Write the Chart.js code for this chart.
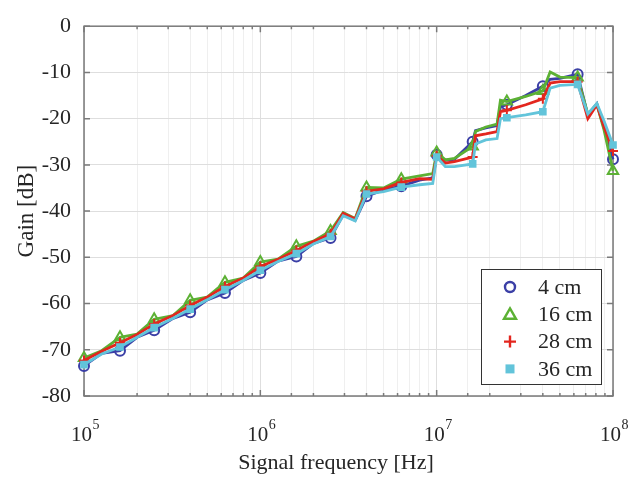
<!DOCTYPE html>
<html>
<head>
<meta charset="utf-8">
<script src="https://cdn.jsdelivr.net/npm/chart.js@4.4.1/dist/chart.umd.min.js"></script>
<style>
  body { margin: 0; background: #fff; }
  canvas { display: block; }
</style>
</head>
<body>
<canvas id="gain" width="640" height="481"></canvas>
<script>
// measurement frequencies [Hz]
const freqs = [
  1.0e5, 1.26e5, 1.6e5, 2.0e5, 2.5e5, 3.2e5, 4.0e5, 5.0e5, 6.3e5, 8.0e5,
  1.0e6, 1.26e6, 1.6e6, 2.0e6, 2.5e6, 2.95e6, 3.45e6, 4.0e6, 5.0e6, 6.3e6,
  8.0e6, 9.5e6, 1.0e7, 1.12e7, 1.26e7, 1.6e7, 1.66e7, 1.9e7, 2.2e7, 2.3e7,
  2.5e7, 3.2e7, 4.0e7, 4.4e7, 5.0e7, 6.3e7, 7.2e7, 8.1e7, 8.9e7, 1.0e8
];

// gain [dB] for each distance
const gain4 = [
  -73.5, -70.8, -70.2, -67.3, -65.8, -63.2, -61.9, -59.2, -57.7, -55.0,
  -53.4, -50.8, -49.8, -47.0, -45.8, -40.8, -42.0, -36.8, -35.4, -34.6,
  -33.3, -32.8, -27.8, -29.0, -28.8, -25.0, -22.6, -22.0, -21.5, -17.4,
  -17.0, -15.0, -13.0, -11.5, -11.3, -10.4, -19.3, -16.8, -22.0, -28.8
];
const gain16 = [
  -71.8, -70.2, -67.3, -66.6, -63.4, -62.6, -59.3, -58.6, -55.4, -54.5,
  -51.0, -50.4, -47.6, -46.5, -44.3, -40.3, -41.6, -34.9, -35.0, -33.1,
  -32.4, -31.9, -27.3, -28.9, -28.6, -26.0, -22.8, -21.8, -21.2, -16.0,
  -16.3, -15.2, -14.0, -9.9, -11.0, -11.1, -19.0, -16.9, -22.5, -31.3
];
const gain28 = [
  -72.3, -70.3, -68.5, -66.7, -64.4, -62.6, -60.4, -58.6, -56.3, -54.5,
  -52.0, -50.4, -48.5, -46.6, -44.9, -40.5, -41.7, -35.7, -35.2, -33.8,
  -33.0, -33.1, -28.0, -29.6, -29.3, -28.3, -23.7, -23.3, -22.8, -18.5,
  -18.2, -17.0, -15.7, -12.3, -12.0, -12.0, -20.0, -17.0, -21.8, -27.0
];
const gain36 = [
  -73.2, -70.9, -69.4, -67.3, -65.2, -63.2, -61.2, -59.2, -57.0, -55.0,
  -52.8, -50.9, -49.2, -47.1, -45.5, -41.0, -42.1, -36.3, -35.8, -34.8,
  -34.3, -34.0, -28.3, -30.4, -30.4, -29.8, -25.5, -24.6, -24.3, -20.0,
  -19.8, -19.2, -18.5, -13.4, -12.8, -12.6, -19.0, -16.7, -20.5, -25.7
];

const labels = ['4 cm', '16 cm', '28 cm', '36 cm'];
const colors = ['#3b3fa6', '#5cb134', '#e3261e', '#62c4da'];
const styles = ['circle', 'triangle', 'cross', 'rect'];
const yTicks = [0, -10, -20, -30, -40, -50, -60, -70, -80];
const decades = [1e5, 1e6, 1e7, 1e8];
const xTitle = 'Signal frequency [Hz]';

const serif = '"Liberation Serif", "Times New Roman", serif';
const ink = '#262626';

function isDecade(v) {
  const e = Math.log10(v);
  return Math.abs(e - Math.round(e)) < 1e-6;
}
// markers sit on the fifth-decade points only
function hasMarker(f) {
  const e = Math.log10(f) * 5;
  return Math.abs(e - Math.round(e)) < 0.03;
}

function series(values, i) {
  const filled = styles[i] === 'rect';
  const radius = [5, 6, 5, 4][i];
  return {
    label: labels[i],
    data: freqs.map((f, k) => ({ x: f, y: values[k] })),
    order: 4 - i,   // later series on top
    borderColor: colors[i],
    backgroundColor: colors[i],
    borderWidth: 2.8,
    pointStyle: styles[i],
    pointRadius: ctx => hasMarker(freqs[ctx.dataIndex]) ? radius : 0,
    pointHoverRadius: 0,
    pointBorderWidth: 2,
    pointBorderColor: colors[i],
    pointBackgroundColor: filled ? colors[i] : 'rgba(0,0,0,0)',
    tension: 0,
    clip: false
  };
}

// box, inward ticks, x labels and legend in MATLAB style
const frame = {
  id: 'frame',
  beforeDatasetsDraw(chart) {
    const { ctx, chartArea: a, scales: { x, y } } = chart;
    ctx.save();
    ctx.strokeStyle = '#7a7a7a';
    ctx.lineWidth = 1.5;
    ctx.beginPath();
    x.ticks.forEach(t => {
      const px = x.getPixelForValue(t.value);
      const len = isDecade(t.value) ? 6 : 3;
      ctx.moveTo(px, a.bottom); ctx.lineTo(px, a.bottom - len);
      ctx.moveTo(px, a.top); ctx.lineTo(px, a.top + len);
    });
    yTicks.forEach(v => {
      const py = y.getPixelForValue(v);
      ctx.moveTo(a.left, py); ctx.lineTo(a.left + 6, py);
      ctx.moveTo(a.right, py); ctx.lineTo(a.right - 6, py);
    });
    ctx.stroke();
    ctx.strokeRect(a.left, a.top, a.right - a.left, a.bottom - a.top);

    // 10^n tick labels
    ctx.fillStyle = ink;
    ctx.textBaseline = 'alphabetic';
    ctx.textAlign = 'left';
    decades.forEach(d => {
      const px = x.getPixelForValue(d);
      const exp = String(Math.round(Math.log10(d)));
      ctx.font = '21px ' + serif;
      const wBase = ctx.measureText('10').width;
      ctx.font = '14px ' + serif;
      const wExp = ctx.measureText(exp).width;
      const left = px - (wBase + wExp) / 2 + 1;
      ctx.font = '21px ' + serif;
      ctx.fillText('10', left, a.bottom + 45);
      ctx.font = '14px ' + serif;
      ctx.fillText(exp, left + wBase + 0.5, a.bottom + 33);
    });

    // x axis title
    ctx.font = '22px ' + serif;
    ctx.textAlign = 'center';
    ctx.textBaseline = 'middle';
    ctx.fillText(xTitle, 336, 463);
    ctx.restore();
  },
  afterDraw(chart) {
    const { ctx } = chart;
    const bx = 481, by = 269, bw = 120, bh = 115;
    ctx.save();
    ctx.fillStyle = '#fff';
    ctx.fillRect(bx, by, bw, bh);
    ctx.strokeStyle = '#333';
    ctx.lineWidth = 1;
    ctx.strokeRect(bx + 0.5, by + 0.5, bw, bh);
    ctx.font = '22px ' + serif;
    ctx.textBaseline = 'middle';
    labels.forEach((name, i) => {
      const cy = by + 18 + i * 27.3;
      const cx = bx + 29;
      ctx.strokeStyle = colors[i];
      ctx.fillStyle = colors[i];
      ctx.lineWidth = 2.4;
      ctx.beginPath();
      if (styles[i] === 'circle') {
        ctx.arc(cx, cy, 5, 0, Math.PI * 2);
        ctx.stroke();
      } else if (styles[i] === 'triangle') {
        ctx.moveTo(cx, cy - 6); ctx.lineTo(cx + 6, cy + 4.5); ctx.lineTo(cx - 6, cy + 4.5);
        ctx.closePath();
        ctx.stroke();
      } else if (styles[i] === 'cross') {
        ctx.moveTo(cx - 6, cy); ctx.lineTo(cx + 6, cy);
        ctx.moveTo(cx, cy - 6); ctx.lineTo(cx, cy + 6);
        ctx.stroke();
      } else {
        ctx.fillRect(cx - 4.5, cy - 4.5, 9, 9);
      }
      ctx.fillStyle = ink;
      ctx.fillText(name, bx + 57, cy + 1);
    });
    ctx.restore();
  }
};

new Chart(document.getElementById('gain'), {
  type: 'line',
  data: { datasets: [gain4, gain16, gain28, gain36].map(series) },
  options: {
    responsive: false,
    animation: false,
    events: [],
    layout: { padding: { top: 19, right: 27, left: 0, bottom: 0 } },
    plugins: { legend: { display: false }, tooltip: { enabled: false } },
    scales: {
      x: {
        type: 'logarithmic',
        min: 1e5,
        max: 1e8,
        afterFit(scale) { scale.height = 85; },
        border: { display: false },
        grid: {
          drawTicks: false,
          lineWidth: 1,
          color: c => c.tick && isDecade(c.tick.value) ? '#dedede' : '#efefef'
        },
        ticks: {
          autoSkip: false,
          maxRotation: 0,
          callback: () => ''
        }
      },
      y: {
        min: -80,
        max: 0,
        afterFit(scale) { scale.width = 84; },
        border: { display: false },
        grid: { drawTicks: false, color: '#dedede', lineWidth: 1 },
        ticks: {
          stepSize: 10,
          padding: 13,
          color: ink,
          font: { family: serif, size: 22 }
        },
        title: {
          display: true,
          text: 'Gain [dB]',
          color: ink,
          font: { family: serif, size: 23 },
          padding: { top: 13, bottom: 0 }
        }
      }
    }
  },
  plugins: [frame]
});
</script>
</body>
</html>
